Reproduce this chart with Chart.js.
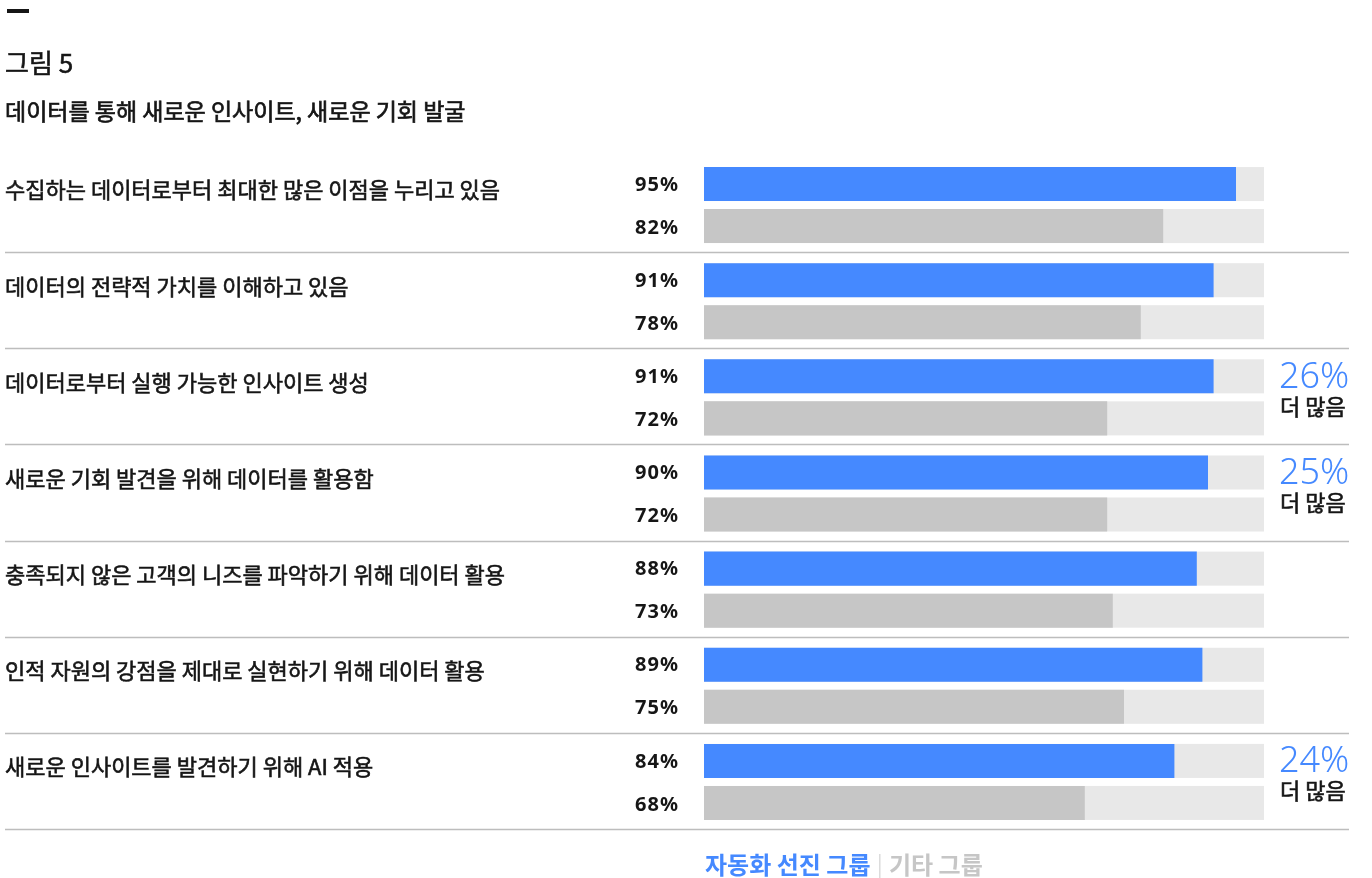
<!DOCTYPE html>
<html>
<head>
  <meta charset="utf-8">
  <script src="https://cdn.jsdelivr.net/npm/chart.js@4.4.1/dist/chart.umd.min.js"></script>
  <style>
    body { margin: 0; background: #fff; font-family: "Noto Sans CJK KR", "Noto Sans", sans-serif; color: #161616; }
    .wrap { position: relative; width: 1372px; height: 878px; overflow: hidden; }
    .bar { position: absolute; left: 7px; top: 9px; width: 22px; height: 4px; background: #161616; }
    .fig { position: absolute; left: 5px; top: 43px; font-size: 26px; font-weight: 400; -webkit-text-stroke: 0.6px #161616; }
    .sub { position: absolute; left: 5px; top: 93px; font-size: 23px; font-weight: 400; -webkit-text-stroke: 0.7px #161616; }
    .legend { position: absolute; left: 705px; top: 846px; font-size: 24px; font-weight: 700; }
    .legend .a { color: #4589ff; }
    .legend .sep { color: #dcdcdc; font-weight: 400; margin: 0 6px; }
    .legend .b { color: #c6c6c6; }
    .chart-box { position: absolute; left: 0; top: 0; width: 1372px; height: 878px; }
  </style>
</head>
<body>
<div class="wrap">
  <div class="chart-box"><canvas id="myChart"></canvas></div>
  <div class="bar"></div>
  <div class="fig">그림 5</div>
  <div class="sub">데이터를 통해 새로운 인사이트, 새로운 기회 발굴</div>
  <div class="legend"><span class="a">자동화 선진 그룹</span><span class="sep">|</span><span class="b">기타 그룹</span></div>
</div>
<script>
  // data
  var categories = [
    '수집하는 데이터로부터 최대한 많은 이점을 누리고 있음',
    '데이터의 전략적 가치를 이해하고 있음',
    '데이터로부터 실행 가능한 인사이트 생성',
    '새로운 기회 발견을 위해 데이터를 활용함',
    '충족되지 않은 고객의 니즈를 파악하기 위해 데이터 활용',
    '인적 자원의 강점을 제대로 실현하기 위해 데이터 활용',
    '새로운 인사이트를 발견하기 위해 AI 적용'
  ];
  var leaders = [95, 91, 91, 90, 88, 89, 84];
  var others = [82, 78, 72, 72, 73, 75, 68];
  var notes = ['', '', '26%', '25%', '', '', '24%'];
  var noteText = '더 많음';

  var BLUE = '#4589ff';
  var GRAY = '#c6c6c6';
  var TRACK = '#e8e8e8';

  // medium-weight look: fill plus a thin stroke
  function heavyText(ctx, s, x, y, w) {
    ctx.fillText(s, x, y);
    ctx.lineWidth = w;
    ctx.strokeStyle = ctx.fillStyle;
    ctx.strokeText(s, x, y);
  }

  // tracks, labels, separators
  var layoutPlugin = {
    id: 'rows',
    beforeDatasetsDraw: function(chart) {
      var ctx = chart.ctx;
      var x = chart.scales.x;
      ctx.save();
      ctx.fillStyle = TRACK;
      chart.data.datasets.forEach(function(ds, i) {
        chart.getDatasetMeta(i).data.forEach(function(el) {
          var x0 = x.getPixelForValue(0), x1 = x.getPixelForValue(100);
          ctx.fillRect(x0, el.y - el.height / 2, x1 - x0, el.height);
        });
      });
      ctx.restore();
    },
    afterDatasetsDraw: function(chart) {
      var ctx = chart.ctx;
      var area = chart.chartArea;
      var blue = chart.getDatasetMeta(0).data;
      var gray = chart.getDatasetMeta(1).data;
      var band = (area.bottom - area.top) / categories.length;
      ctx.save();

      // separators
      ctx.strokeStyle = '#bdbdbd';
      ctx.lineWidth = 1.5;
      for (var i = 1; i <= categories.length; i++) {
        var yy = Math.round(area.top + band * i) - 0.5;
        ctx.beginPath();
        ctx.moveTo(5, yy);
        ctx.lineTo(1349, yy);
        ctx.stroke();
      }

      categories.forEach(function(c, i) {
        // category label
        ctx.fillStyle = '#161616';
        ctx.font = '22px "Noto Sans CJK KR"';
        ctx.textAlign = 'left';
        ctx.textBaseline = 'middle';
        heavyText(ctx, c, 5, blue[i].y + 6, 0.6);

        // values
        ctx.font = 'bold 20px "Noto Sans", "Liberation Sans"';
        ctx.textAlign = 'right';
        ctx.letterSpacing = '1px';
        ctx.fillText(leaders[i] + '%', 679, blue[i].y + 1);
        ctx.fillText(others[i] + '%', 679, gray[i].y + 2);
        ctx.letterSpacing = '0px';

        // notes
        if (notes[i]) {
          ctx.textAlign = 'left';
          ctx.fillStyle = BLUE;
          ctx.font = '300 36px "Noto Sans", "Liberation Sans"';
          ctx.fillText(notes[i], 1279, blue[i].y + 1);
          ctx.fillStyle = '#161616';
          ctx.font = '22px "Noto Sans CJK KR"';
          heavyText(ctx, noteText, 1280, gray[i].y - 12, 0.6);
        }
      });
      ctx.restore();
    }
  };

  var ctx = document.getElementById('myChart').getContext('2d');
  var chart = new Chart(ctx, {
    type: 'bar',
    data: {
      labels: categories,
      datasets: [{
        label: '자동화 선진 그룹',
        data: leaders,
        backgroundColor: BLUE,
        categoryPercentage: 0.874,
        barPercentage: 0.81
      }, {
        label: '기타 그룹',
        data: others,
        backgroundColor: GRAY,
        categoryPercentage: 0.874,
        barPercentage: 0.81
      }]
    },
    options: {
      indexAxis: 'y',
      responsive: true,
      maintainAspectRatio: false,
      animation: false,
      layout: {
        padding: { left: 704, right: 108, top: 157, bottom: 48 }
      },
      scales: {
        x: { display: false, min: 0, max: 100 },
        y: { display: false }
      },
      plugins: {
        legend: { display: false },
        tooltip: { enabled: false }
      }
    },
    plugins: [layoutPlugin]
  });
</script>
</body>
</html>
